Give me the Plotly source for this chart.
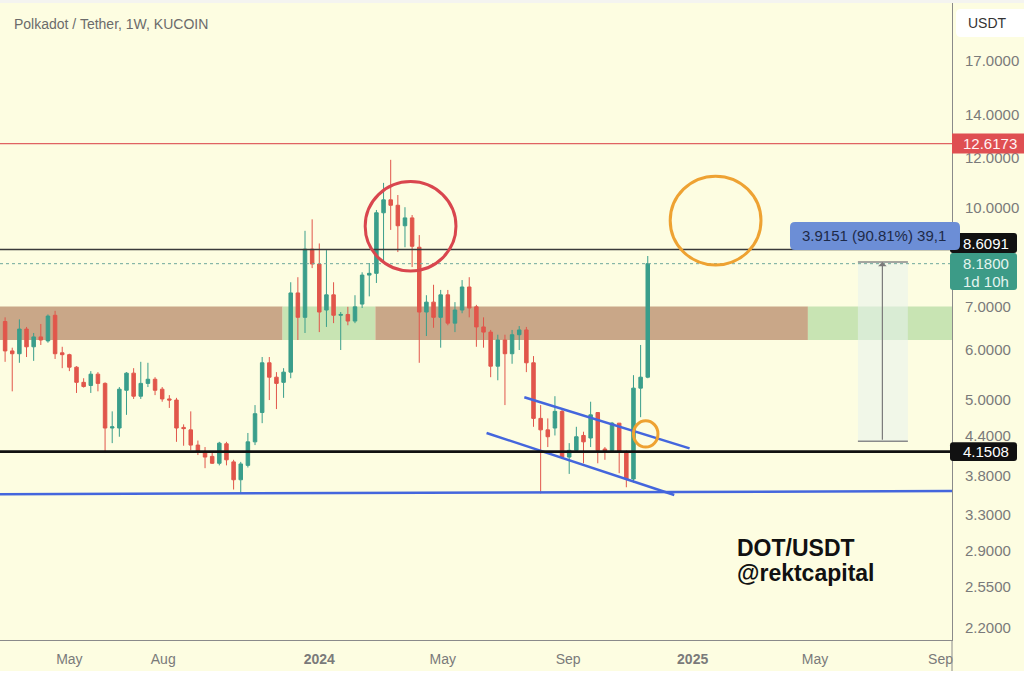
import math
import pandas as pd
import plotly.graph_objects as go

# ---------------- data ----------------
week_start = "2023-02-27"

opens = [6.64, 5.97, 5.91, 6.46, 6.06, 6.28, 6.19, 6.79, 5.93, 5.89,
         5.63, 5.33, 5.27, 5.49, 5.31, 4.52, 4.52, 5.18, 5.51, 5.07,
         5.31, 5.39, 5.20, 5.02, 5.00, 4.53, 4.49, 4.25, 4.15, 4.08,
         3.98, 4.27, 4.00, 3.75, 3.95, 4.30, 4.78, 5.72, 5.43, 5.33,
         5.53, 7.36, 6.74, 8.62, 8.17, 6.92, 7.31, 6.79, 6.81, 6.65,
         7.07, 7.85, 7.90, 9.83, 10.30, 10.10, 9.38, 9.65, 8.68, 6.87,
         7.12, 6.74, 7.31, 6.60, 6.92, 7.52, 7.00, 6.51, 6.39, 5.65,
         6.21, 5.91, 6.33, 6.44, 5.72, 4.68, 4.49, 4.52, 4.80, 4.07,
         4.17, 4.40, 4.36, 4.78, 4.19, 4.17, 4.60, 4.15, 3.76, 5.22,
         5.43]
highs = [6.74, 6.04, 6.69, 6.51, 6.37, 6.58, 6.81, 6.90, 6.06, 5.91,
         5.65, 5.41, 5.55, 5.53, 5.33, 4.80, 5.24, 5.53, 5.61, 5.74,
         5.72, 5.43, 5.24, 5.09, 5.04, 4.58, 4.80, 4.32, 4.22, 4.15,
         4.30, 4.30, 4.03, 4.00, 4.44, 4.91, 5.84, 5.84, 5.53, 5.61,
         7.65, 7.79, 9.21, 9.60, 8.80, 8.59, 7.65, 6.87, 7.00, 7.30,
         7.93, 8.20, 9.93, 10.95, 11.90, 10.48, 10.03, 9.75, 9.07, 7.30,
         7.58, 7.44, 7.44, 7.12, 7.71, 7.79, 7.05, 6.74, 6.44, 6.33,
         6.33, 6.44, 6.53, 6.51, 5.86, 4.91, 4.68, 5.07, 4.84, 4.28,
         4.54, 4.46, 4.97, 4.78, 4.22, 4.62, 4.60, 4.17, 5.47, 6.10,
         8.41]
lows = [5.74, 5.16, 5.72, 5.84, 5.76, 6.10, 6.15, 5.80, 5.61, 5.55,
        5.13, 5.23, 5.13, 5.16, 4.13, 4.28, 4.38, 4.74, 5.02, 5.02,
        5.24, 5.09, 4.97, 4.86, 4.30, 4.24, 4.17, 4.10, 3.91, 3.97,
        3.95, 3.95, 3.62, 3.57, 3.92, 4.25, 4.60, 5.00, 4.84, 5.04,
        5.41, 6.21, 6.37, 8.05, 6.39, 6.51, 6.60, 5.99, 6.55, 6.60,
        6.97, 7.27, 7.63, 8.20, 9.24, 8.53, 8.68, 8.08, 5.72, 6.30,
        6.49, 6.04, 6.55, 6.39, 6.84, 6.74, 6.06, 6.04, 5.43, 5.37,
        4.91, 5.70, 5.99, 5.53, 4.54, 3.57, 4.22, 4.40, 4.04, 3.83,
        4.15, 3.98, 4.22, 3.98, 4.03, 4.15, 3.84, 3.65, 3.71, 4.70,
        5.41]
closes = [5.97, 5.91, 6.46, 6.06, 6.28, 6.21, 6.77, 5.91, 5.89, 5.63,
          5.33, 5.25, 5.49, 5.31, 4.52, 4.54, 5.20, 5.51, 5.07, 5.31,
          5.39, 5.18, 5.02, 5.00, 4.52, 4.51, 4.25, 4.15, 4.07, 3.98,
          4.28, 4.03, 3.75, 3.97, 4.30, 4.76, 5.72, 5.43, 5.31, 5.53,
          7.36, 6.74, 8.62, 8.17, 6.87, 7.31, 6.79, 6.81, 6.65, 7.00,
          7.85, 7.90, 9.83, 10.30, 10.10, 9.38, 9.65, 8.71, 6.87, 7.12,
          6.74, 7.31, 6.60, 6.92, 7.52, 6.97, 6.51, 6.39, 5.65, 6.21,
          5.91, 6.33, 6.44, 5.72, 4.68, 4.49, 4.38, 4.80, 4.07, 4.17,
          4.38, 4.30, 4.74, 4.17, 4.15, 4.60, 4.15, 3.76, 5.22, 5.43,
          8.18]

dates = pd.date_range(week_start, periods=len(opens), freq="7D")

level_red = 12.6173
level_top = 8.6091
level_last = 8.18
level_support = 4.1508

zone_low, zone_high = 6.21, 7.01
zone_segments = [("2023-02-01", "2023-11-26", "brown"),
                 ("2023-11-26", "2024-02-25", "green"),
                 ("2024-02-25", "2025-04-24", "brown"),
                 ("2025-04-24", "2025-10-01", "green")]

channel_upper_x = ["2024-07-20", "2024-12-29"]
channel_upper_y = [5.05, 4.20]
channel_lower_x = ["2024-06-13", "2024-12-14"]
channel_lower_y = [4.44, 3.55]
base_x = ["2023-02-22", "2025-09-12 06:00"]
base_y = [3.56, 3.60]

red_circle = ("2024-02-15", "2024-05-14", 7.97, 11.0)
orange_circle = ("2024-12-10", "2025-03-09", 8.14, 11.22)
small_circle = ("2024-11-04", "2024-11-28", 4.22, 4.64)

measure_x0, measure_x1, measure_xm = "2025-06-12", "2025-07-31", "2025-07-06"
measure_low, measure_high = 4.31, 8.23
measure_text = "3.9151 (90.81%) 39,1"

ytick_vals = [17, 14, 12, 10, 7, 6, 5, 4.4, 3.8, 3.3, 2.9, 2.55, 2.2]
xtick_vals = ["2023-05-01", "2023-08-01", "2024-01-01", "2024-05-01",
              "2024-09-01", "2025-01-01", "2025-05-01", "2025-09-01"]
xtick_text = ["May", "Aug", "<b>2024</b>", "May", "Sep", "<b>2025</b>", "May", "Sep"]

X_RANGE = ["2023-02-22", "2025-09-12 06:00"]
Y_RANGE = [2.103, 20.96]

# ---------------- style ----------------
BG = "#fdfde1"
UP = "#3a9e8b"
DOWN = "#e1564b"
BROWN = "#c9a788"
GREEN = "#c8e4b3"
BLUE = "#4466dd"
FONT = "Liberation Sans, Arial, sans-serif"

W, H = 1024, 675
ML, MR, MT, MB = 0, 72, 3, 35
PW, PH = W - ML - MR, H - MT - MB
LOG_LO, LOG_HI = math.log10(Y_RANGE[0]), math.log10(Y_RANGE[1])


def px(x):
    return (x - ML) / PW


def py(y):
    return (H - MB - y) / PH


def price_pix(p):
    frac = (math.log10(p) - LOG_LO) / (LOG_HI - LOG_LO)
    return (H - MB) - frac * PH


def rounded_path(x0, y0, x1, y1, r):
    pts = [("M", x0 + r, y0), ("L", x1 - r, y0), ("Q", x1, y0, x1, y0 + r),
           ("L", x1, y1 - r), ("Q", x1, y1, x1 - r, y1), ("L", x0 + r, y1),
           ("Q", x0, y1, x0, y1 - r), ("L", x0, y0 + r), ("Q", x0, y0, x0 + r, y0)]
    s = ""
    for p in pts:
        cmd = p[0]
        coords = p[1:]
        parts = []
        for i in range(0, len(coords), 2):
            parts.append(f"{px(coords[i]):.5f},{py(coords[i+1]):.5f}")
        s += cmd + " " + " ".join(parts) + " "
    return s + "Z"


fig = go.Figure()

fig.add_trace(go.Candlestick(
    x=dates, open=opens, high=highs, low=lows, close=closes,
    increasing=dict(line=dict(color=UP, width=1), fillcolor=UP),
    decreasing=dict(line=dict(color=DOWN, width=1), fillcolor=DOWN),
    whiskerwidth=0, showlegend=False, hoverinfo="skip"))

for xs, ys in [(channel_upper_x, channel_upper_y), (channel_lower_x, channel_lower_y), (base_x, base_y)]:
    fig.add_trace(go.Scatter(x=xs, y=ys, mode="lines", line=dict(color=BLUE, width=2.5),
                             showlegend=False, hoverinfo="skip"))

shapes = []
# zones
for x0, x1, kind in zone_segments:
    shapes.append(dict(type="rect", xref="x", yref="y", x0=x0, x1=x1, y0=zone_low, y1=zone_high,
                       fillcolor=BROWN if kind == "brown" else GREEN, line=dict(width=0), layer="below"))
# measure rectangle
shapes.append(dict(type="rect", xref="x", yref="y", x0=measure_x0, x1=measure_x1,
                   y0=measure_low, y1=measure_high, fillcolor="rgba(232,242,238,0.55)",
                   line=dict(width=0), layer="below"))
for yv in (measure_low, measure_high):
    shapes.append(dict(type="line", xref="x", yref="y", x0=measure_x0, x1=measure_x1, y0=yv, y1=yv,
                       line=dict(color="#8a8a8a", width=1.5)))
# horizontal levels
shapes.append(dict(type="line", xref="paper", yref="y", x0=0, x1=1, y0=level_red, y1=level_red,
                   line=dict(color="#e06262", width=1.2)))
shapes.append(dict(type="line", xref="paper", yref="y", x0=0, x1=1, y0=level_top, y1=level_top,
                   line=dict(color="#3a3a3a", width=1.6)))
shapes.append(dict(type="line", xref="paper", yref="y", x0=0, x1=1, y0=level_last, y1=level_last,
                   line=dict(color="#6fa89c", width=1, dash="dot")))
shapes.append(dict(type="line", xref="paper", yref="y", x0=0, x1=1, y0=level_support, y1=level_support,
                   line=dict(color="#111111", width=2.8)))
# circles
for (x0, x1, y0, y1), col in [(red_circle, "#d9464e"), (orange_circle, "#eea232"), (small_circle, "#eea232")]:
    shapes.append(dict(type="circle", xref="x", yref="y", x0=x0, x1=x1, y0=y0, y1=y1,
                       line=dict(color=col, width=3)))

# axis line extension and screenshot borders
shapes.append(dict(type="line", xref="paper", yref="paper", x0=1, x1=1, y0=py(640), y1=py(672),
                   line=dict(color="#8a8a8a", width=1)))
shapes.append(dict(type="rect", xref="paper", yref="paper", x0=px(0), x1=px(W), y0=py(3), y1=py(0),
                   fillcolor="#f4f4f0", line=dict(width=0)))
shapes.append(dict(type="rect", xref="paper", yref="paper", x0=px(0), x1=px(W), y0=py(675), y1=py(671),
                   fillcolor="#ffffff", line=dict(width=0)))

annotations = []


def box(x0, y0, x1, y1, color, r=3):
    shapes.append(dict(type="path", xref="paper", yref="paper", path=rounded_path(x0, y0, x1, y1, r),
                       fillcolor=color, line=dict(width=0)))


def label(x, y, text, color, size, bold=False, anchor="left"):
    annotations.append(dict(xref="paper", yref="paper", x=px(x), y=py(y), text=f"<b>{text}</b>" if bold else text,
                            showarrow=False, xanchor=anchor, yanchor="middle",
                            font=dict(family=FONT, size=size, color=color)))


# USDT box
box(956, 9, 1030, 37, "#ffffff", r=5)
label(966, 23, "USDT", "#333333", 14)
# price labels
c = price_pix(level_red)
box(952, c - 10, 1030, c + 10, "#df4f52", r=0)
label(961, c, f"{level_red:.4f}", "#fff2f2", 15)
box(950, 233, 1017, 253, "#111111", r=3)
label(961, 243.5, f"{level_top:.4f}", "#ffffff", 15)
box(950, 253, 1017, 290, "#3c9b87", r=3)
label(961, 263, f"{level_last:.4f}", "#e4f4ef", 15)
label(961, 281, "1d 10h", "#e4f4ef", 15)
c = price_pix(level_support)
box(950, c - 9.5, 1017, c + 9.5, "#111111", r=3)
label(961, c, f"{level_support:.4f}", "#ffffff", 15)
# measure label
box(790, 222, 960, 250, "#6c8ed6", r=5)
label(800, 236, measure_text, "#1e2a48", 15)
# title and watermark text
label(12, 24, "Polkadot / Tether, 1W, KUCOIN", "#6b6b6b", 14)
label(735, 548, "DOT/USDT", "#111111", 23, bold=True)
label(735, 573, "@rektcapital", "#111111", 23, bold=True)

# measure arrow
annotations.append(dict(xref="x", yref="y", axref="x", ayref="y",
                        x=measure_xm, y=math.log10(measure_high),
                        ax=measure_xm, ay=math.log10(measure_low),
                        text="", showarrow=True, arrowhead=1, arrowsize=1.2, arrowwidth=1.2,
                        arrowcolor="#7a7a7a"))

fig.update_layout(
    width=W, height=H,
    margin=dict(l=ML, r=MR, t=MT, b=MB, pad=0),
    paper_bgcolor=BG, plot_bgcolor=BG,
    font=dict(family=FONT),
    showlegend=False,
    shapes=shapes,
    annotations=annotations,
    xaxis=dict(type="date", range=X_RANGE, rangeslider=dict(visible=False),
               showgrid=False, zeroline=False, showline=True, linecolor="#8a8a8a", linewidth=1,
               tickmode="array", tickvals=xtick_vals, ticktext=xtick_text, ticks="",
               tickfont=dict(family=FONT, size=14, color="#7a7a7a"), ticklabelstandoff=6),
    yaxis=dict(type="log", range=[LOG_LO, LOG_HI], side="right",
               showgrid=False, zeroline=False, showline=True, linecolor="#8a8a8a", linewidth=1,
               tickmode="array", tickvals=ytick_vals, ticktext=[f"{v:.4f}" for v in ytick_vals],
               ticks="", tickfont=dict(family=FONT, size=15, color="#7a7a7a"), ticklabelstandoff=9),
)

fig.write_html("out.html", post_script="document.body.style.margin='0';",
               config={"displayModeBar": False})
